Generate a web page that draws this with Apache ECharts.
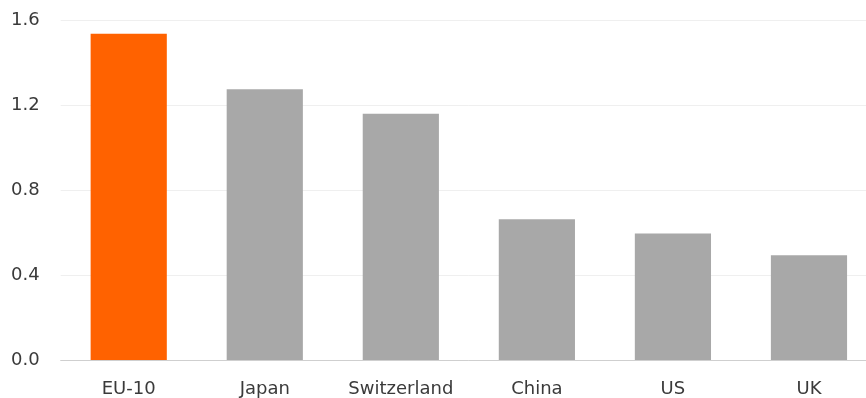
<!DOCTYPE html>
<html>
<head>
<meta charset="utf-8">
<script src="https://cdn.jsdelivr.net/npm/echarts@6/dist/echarts.min.js"></script>
<style>html,body{margin:0;padding:0;background:#fff;overflow:hidden;width:866px;height:398px;}#c{width:877px;height:398px;}</style>
</head>
<body>
<div id="c"></div>
<script>
const categories = ["EU-10", "Japan", "Switzerland", "China", "US", "UK"];
const values = [1.539, 1.277, 1.161, 0.664, 0.596, 0.494];
const highlight = ["EU-10"];
const yTicks = { min: 0, max: 1.6, interval: 0.4 };

const FONT = '"DejaVu Sans", "Noto Sans", sans-serif';
const chart = echarts.init(document.getElementById('c'), null, { renderer: 'canvas' });
chart.setOption({
  animation: false,
  grid: { left: 60.7, right: 0, top: 20.7, height: 340, containLabel: false },
  xAxis: {
    type: 'category',
    data: categories,
    axisLine: { lineStyle: { color: '#cfcfcf', width: 1 } },
    axisTick: { show: false },
    axisLabel: { color: '#3a3a3a', fontSize: 18, fontFamily: FONT, margin: 20, interval: 0 }
  },
  yAxis: {
    type: 'value',
    min: yTicks.min, max: yTicks.max, interval: yTicks.interval,
    axisLine: { show: false },
    axisTick: { show: false },
    splitLine: { lineStyle: { color: '#efefef', width: 1 } },
    axisLabel: { color: '#3a3a3a', fontSize: 18, fontFamily: FONT, margin: 21,
      formatter: v => v.toFixed(1) }
  },
  series: [{
    type: 'bar',
    barWidth: '56%',
    data: categories.map((c, i) => ({
      value: values[i],
      itemStyle: { color: highlight.includes(c) ? '#ff6200' : '#a8a8a8' }
    }))
  }]
});
</script>
</body>
</html>
